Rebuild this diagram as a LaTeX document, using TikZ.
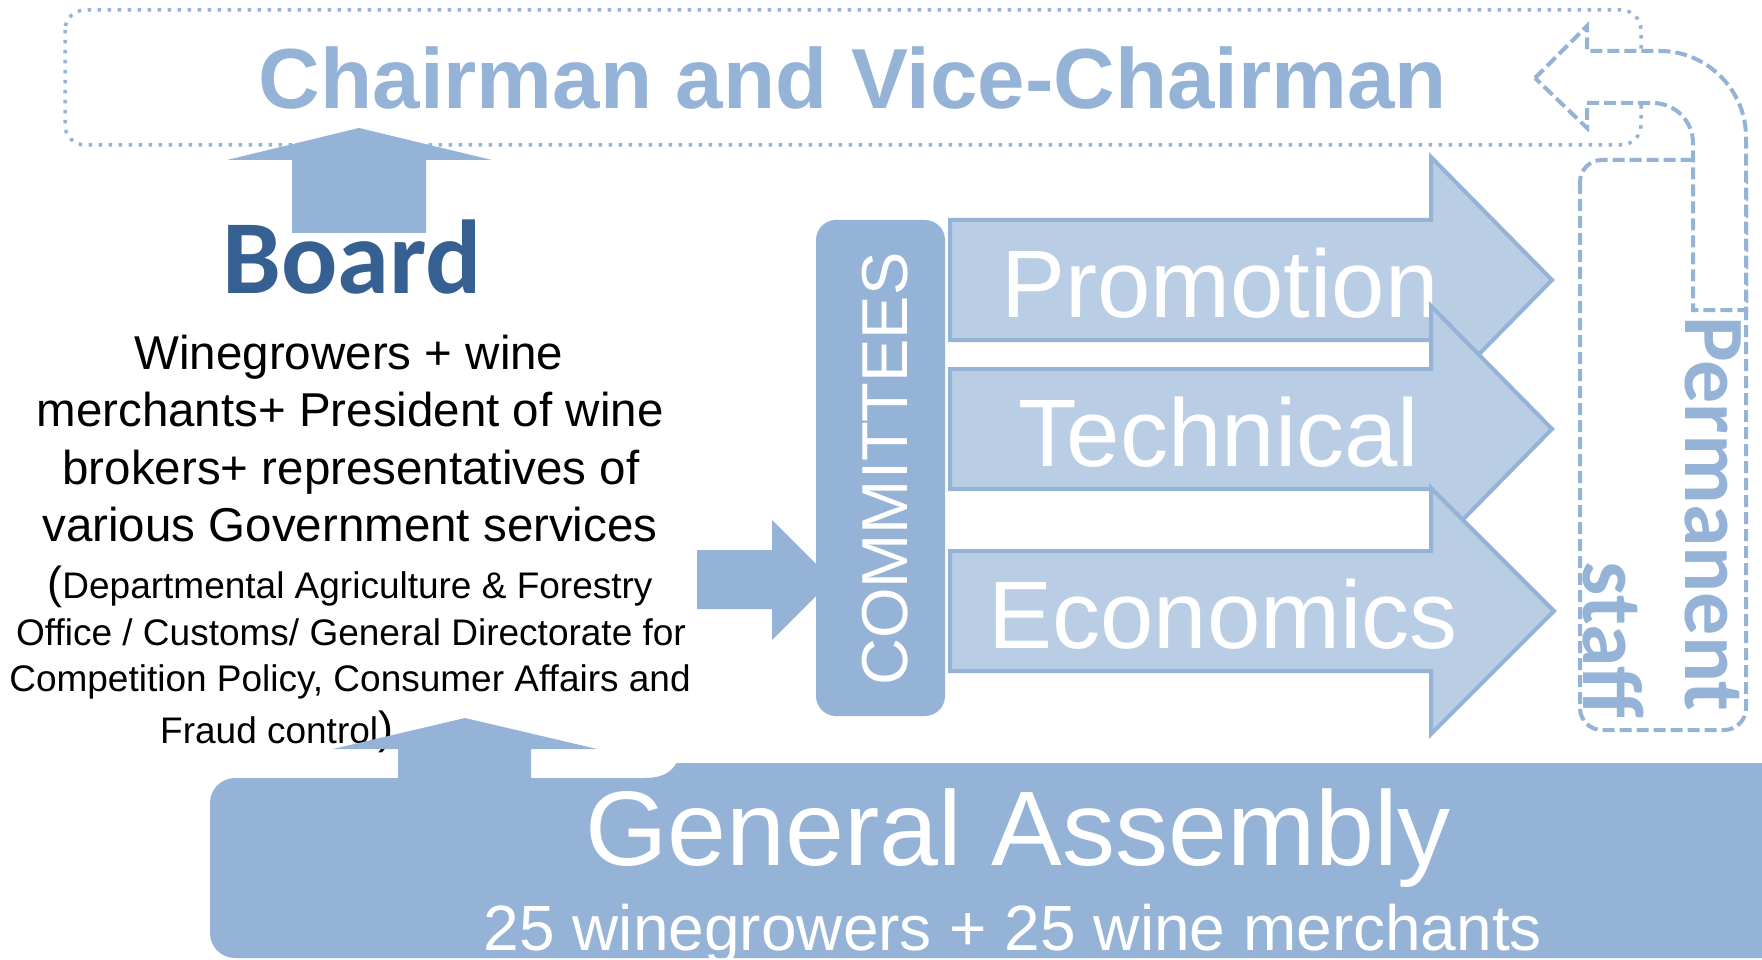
\documentclass[tikz,border=0pt]{standalone}
\usepackage{fontspec}
\setmainfont{Liberation Sans}
\newfontfamily\calibri{Carlito}
\definecolor{boxblue}{HTML}{95B3D7}
\definecolor{paleblue}{HTML}{B9CDE5}
\definecolor{boardblue}{HTML}{376092}
\tikzset{
  blockarrow/.style={fill=boxblue},
  committee/.style={fill=paleblue, draw=boxblue, line width=4pt, miter limit=4},
  dashline/.style={draw=boxblue, line width=4pt, dash pattern=on 12pt off 5pt},
  dotline/.style={draw=boxblue, line width=3.5pt, dash pattern=on 3.5pt off 6.5pt},
  chairtext/.style={anchor=base, inner sep=0pt, text=boxblue, font=\fontsize{85.3}{96}\selectfont\bfseries},
  boardtext/.style={anchor=base, inner sep=0pt, text=boardblue, font=\calibri\bfseries\fontsize{105}{110}\selectfont},
  bodytext/.style={anchor=base, inner sep=0pt, font=\fontsize{47.5}{57}\selectfont},
  smalltext/.style={anchor=base, inner sep=0pt, font=\fontsize{37}{45}\selectfont},
  committext/.style={rotate=90, inner sep=0pt, text=white, font=\fontsize{65}{70}\selectfont},
  armtext/.style={anchor=base, inner sep=0pt, text=white, font=\fontsize{96}{100}\selectfont},
  stafftext/.style={rotate=-90, inner sep=0pt, text=boxblue, font=\calibri\bfseries\fontsize{86}{90}\selectfont},
  gatext/.style={anchor=base, inner sep=0pt, text=white, font=\fontsize{106}{110}\selectfont},
  gasub/.style={anchor=base, inner sep=0pt, text=white, font=\fontsize{64}{70}\selectfont}
}
\begin{document}
\begin{tikzpicture}[x=1pt,y=-1pt]
\useasboundingbox[fill=white] (0,0) rectangle (1762,960);
% top
\draw[dotline, rounded corners=20] (65,10) rectangle (1641,145);
\node[chairtext] (chair) at (853,109) {Chairman and Vice-Chairman};
\fill[blockarrow] (292,233) -- (292,160) -- (227,160) -- (359,128) -- (492,160) -- (426,160) -- (426,233) -- cycle;
\node[boardtext] (board) at (352,294) {Board};
% board members
\node[bodytext] (line1) at (349,369) {Winegrowers + wine};
\node[bodytext] (line2) at (350,426) {merchants+ President of wine};
\node[bodytext] (line3) at (351,484) {brokers+ representatives of};
\node[bodytext] (line4) at (350,541) {various Government services};
\node[smalltext] (line5) at (350,598) {{\fontsize{45}{45}\selectfont(}Departmental Agriculture \& Forestry};
\node[smalltext] (line6) at (351,645) {Office / Customs/ General Directorate for};
\node[smalltext] (line7) at (350,691) {Competition Policy, Consumer Affairs and};
\node[smalltext, anchor=base west] (line8) at (160,743) {Fraud control{\fontsize{45}{45}\selectfont)}};
% committees
\fill[blockarrow] (697,550) -- (772,550) -- (772,520) -- (832,580) -- (772,640) -- (772,609) -- (697,609) -- cycle;
\fill[boxblue, rounded corners=20] (816,220) rectangle (945,716);
\node[committext] (comm) at (885,469) {COMMITTEES};
\draw[committee] (950,220) -- (1431,220) -- (1431,157) -- (1552,280) -- (1431,403) -- (1431,340) -- (950,340) -- cycle;
\node[armtext] (promo) at (1220,317) {Promotion};
\draw[committee] (950,369) -- (1431,369) -- (1431,306) -- (1552,429) -- (1431,552) -- (1431,489) -- (950,489) -- cycle;
\node[armtext] (tech) at (1219,466) {Technical};
\draw[committee] (950,551) -- (1431,551) -- (1431,488) -- (1554,611) -- (1431,734) -- (1431,671) -- (950,671) -- cycle;
\node[armtext] (econ) at (1223,648) {Economics};
% permanent staff
\draw[dashline, rounded corners=22] (1580,160) rectangle (1746,730);
\path[dashline, fill=white] (1535,78) -- (1587,26) -- (1587,51) -- (1660,51) .. controls (1707,51) and (1746,90) .. (1746,137) -- (1746,310) -- (1693,310) -- (1693,143) .. controls (1693,121) and (1675,103) .. (1653,103) -- (1587,103) -- (1587,128) -- cycle;
\node[stafftext, anchor=base west] (perm) at (1685,316) {Permanent};
\node[stafftext, anchor=base east] (staff) at (1583,718) {staff};
% general assembly
\fill[blockarrow] (398,780) -- (398,749) -- (333,749) -- (465,718) -- (597,749) -- (531,749) -- (531,780) -- cycle;
\fill[boxblue] (702,763) .. controls (675,763) and (672,778) .. (645,778) [rounded corners=25] -- (210,778) -- (210,958) -- (1790,958) -- (1790,763) -- cycle;
\node[gatext] (gen) at (1018,865) {General Assembly};
\node[gasub] (members) at (1013,950) {25 winegrowers + 25 wine merchants};
\end{tikzpicture}
\end{document}
